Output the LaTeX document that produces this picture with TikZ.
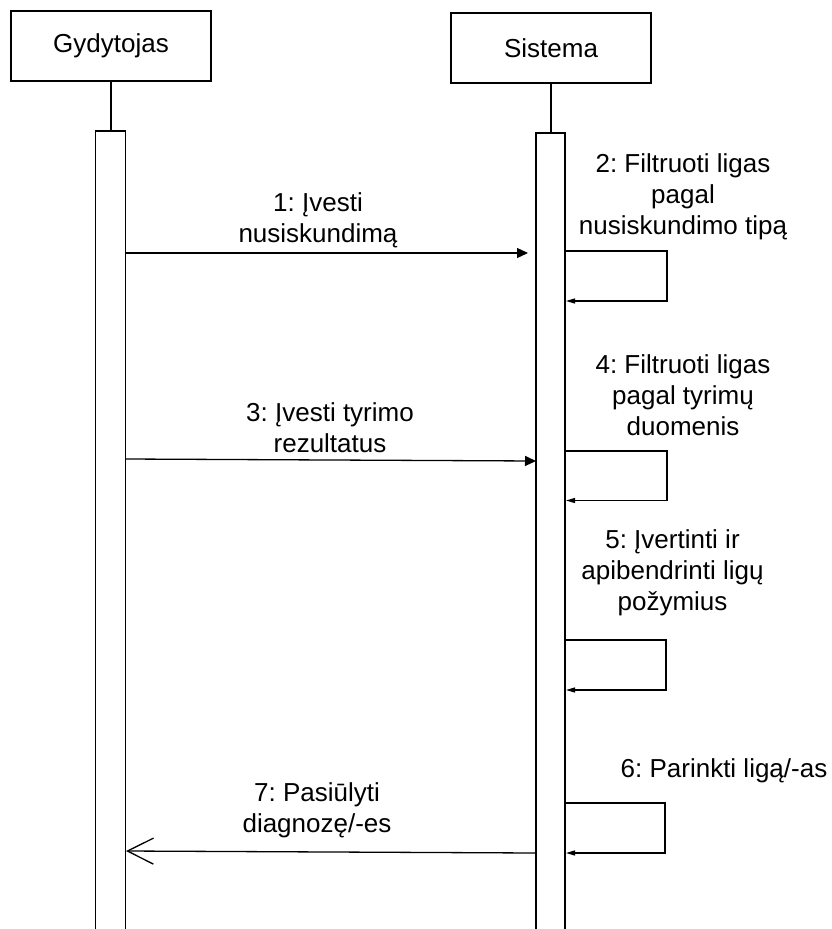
\documentclass[tikz,border=0pt]{standalone}
\usepackage{fontspec}
\setmainfont{Liberation Sans}
\usetikzlibrary{arrows.meta}
\frenchspacing
\begin{document}
\begin{tikzpicture}[x=1pt,y=-1pt,line width=1.3pt,
  actor/.style={draw,minimum width=200pt,minimum height=70pt,inner sep=0pt,font=\fontsize{26}{31}\selectfont},
  lbl/.style={align=center,inner sep=0pt,font=\frenchspacing\fontsize{26}{31}\selectfont},
  msg/.style={-{Triangle[length=11pt,width=10pt]}},
  self/.style={-{Triangle[length=9pt,width=5pt]}},
  reply/.style={-{Straight Barb[length=26pt,width=26pt]}}]
\useasboundingbox (0,0) rectangle (832,929);
% actors
\node[actor] (gyd) at (111,46) {Gydytojas};
\node[actor] (sis) at (551,48) {Sistema};
\coordinate (lt) at (111,131);
\coordinate (rt) at (551,133);
\draw (gyd.south) -- (lt);
\draw (sis.south) -- (rt);
% activation bars
\draw (95.5,935) -- (95.5,131) -- (125.5,131) -- (125.5,935);
\draw (536,935) -- (536,133) -- (565,133) -- (565,935);
% message 1
\coordinate (m1a) at (126,253);
\coordinate (m1b) at (528,253);
\draw[msg] (m1a) -- (m1b);
\node[lbl] (l1) at (318,220) {1: Įvesti\\nusiskundimą};
% message 2
\coordinate (s2a) at (566,251);
\coordinate (s2b) at (667,251);
\coordinate (s2c) at (667,301);
\coordinate (s2d) at (566,301);
\draw[self] (s2a) -- (s2b) -- (s2c) -- (s2d);
\node[lbl] (l2) at (683,197) {2: Filtruoti ligas\\pagal\\nusiskundimo tipą};
% message 3
\coordinate (m3a) at (126,459);
\coordinate (m3b) at (536,461);
\draw[msg] (m3a) -- (m3b);
\node[lbl] (l3) at (330,428) {3: Įvesti tyrimo\\rezultatus};
% message 4
\coordinate (s4a) at (566,451);
\coordinate (s4b) at (667,451);
\coordinate (s4c) at (667,500.5);
\coordinate (s4d) at (566,500.5);
\draw[self] (s4a) -- (s4b) -- (s4c) -- (s4d);
\node[lbl] (l4) at (683,395) {4: Filtruoti ligas\\pagal tyrimų\\duomenis};
% message 5
\coordinate (s5a) at (566,640);
\coordinate (s5b) at (666,640);
\coordinate (s5c) at (666,690);
\coordinate (s5d) at (566,690);
\draw[self] (s5a) -- (s5b) -- (s5c) -- (s5d);
\node[lbl] (l5) at (672.5,573) {5: Įvertinti ir\\apibendrinti ligų\\požymius};
% message 6
\coordinate (s6a) at (566,803);
\coordinate (s6b) at (665,803);
\coordinate (s6c) at (665,853);
\coordinate (s6d) at (566,853);
\draw[self] (s6a) -- (s6b) -- (s6c) -- (s6d);
\node[lbl] (l6) at (724,771) {6: Parinkti ligą/-as};
% message 7
\coordinate (m7a) at (536,853);
\coordinate (m7b) at (126,851);
\draw[reply] (m7a) -- (m7b);
\node[lbl] (l7) at (317,810) {7: Pasiūlyti\\diagnozę/-es};
\end{tikzpicture}
\end{document}
